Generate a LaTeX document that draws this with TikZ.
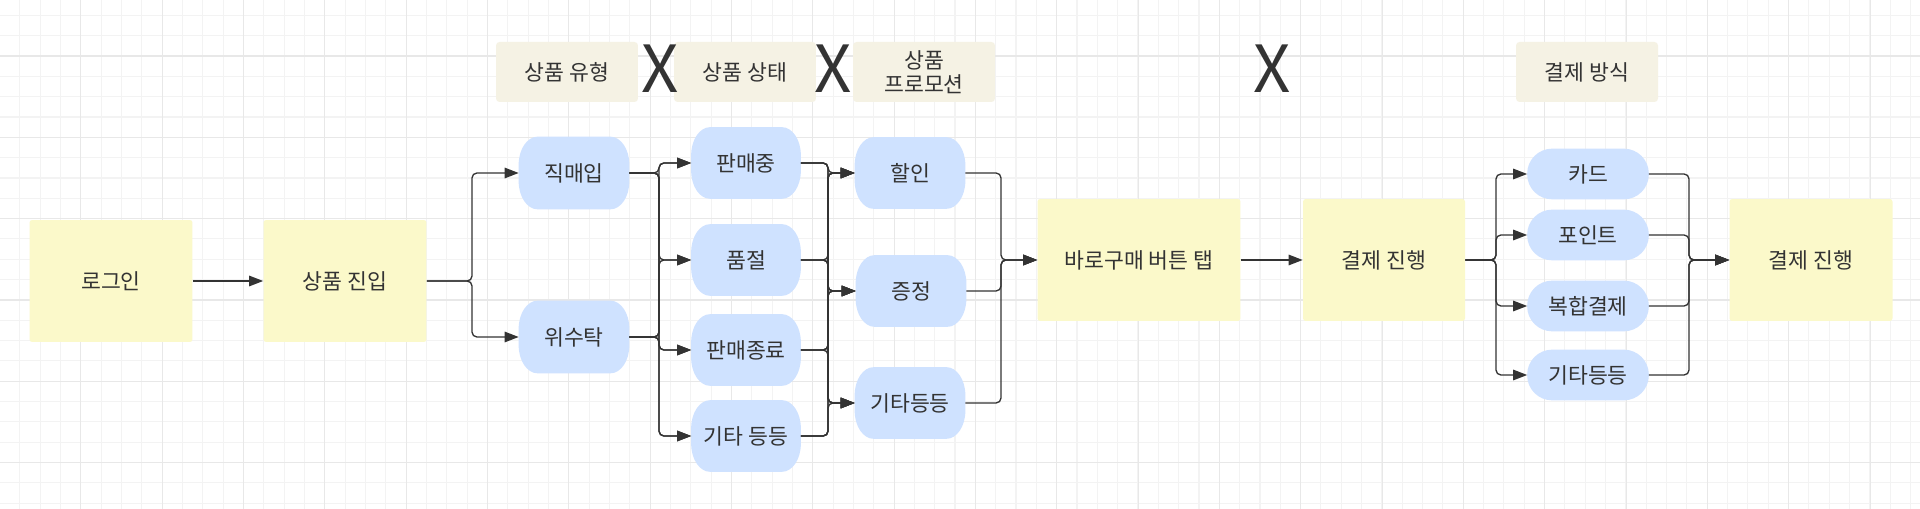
\documentclass[tikz,border=0pt]{standalone}
\usepackage{fontspec}
\setmainfont{Noto Sans CJK KR}
\usetikzlibrary{arrows.meta}

\definecolor{ink}{HTML}{333333}
\definecolor{boxyellow}{HTML}{FBF9CA}
\definecolor{tagbeige}{HTML}{F5F2E4}
\definecolor{pillblue}{HTML}{CFE2FF}
\definecolor{minorline}{HTML}{F3F3F3}
\definecolor{majorline}{HTML}{E8E8E8}

\pgfdeclarelayer{grid}
\pgfdeclarelayer{pills}
\pgfsetlayers{grid,pills,main}

\tikzset{
  stepbox/.style={fill=boxyellow, rounded corners=1.5pt, text=ink,
    minimum width=3.26cm, minimum height=2.44cm, inner sep=0pt},
  tagbox/.style={fill=tagbeige, rounded corners=2pt, text=ink,
    minimum width=2.84cm, minimum height=1.2cm, inner sep=0pt, align=center},
  pill/.style={text=ink, minimum width=2.2cm, minimum height=1.42cm, inner sep=0pt},
  paypill/.style={text=ink, minimum width=2.42cm, minimum height=1cm, inner sep=0pt},
  cross/.style={text=ink, font=\fontsize{37}{40}\selectfont, inner sep=0pt},
  link/.style={draw=ink, line width=0.75pt, rounded corners=2.8pt,
    -{Triangle[length=8pt,width=6pt]}},
}

\begin{document}
\begin{tikzpicture}[x=0.02cm, y=-0.02cm, font=\fontsize{12.3}{14.5}\selectfont]
\useasboundingbox (0,0) rectangle (1920,509);

% background grid
\begin{pgfonlayer}{grid}
\fill[white] (0,0) rectangle (1920,509);
\foreach \i in {0,...,94}
  \draw[minorline, line width=0.6pt] ({20.33*\i-0.5},0) -- ({20.33*\i-0.5},509);
\foreach \j in {-2,...,22}
  \draw[minorline, line width=0.6pt] (0,{56+20.33*\j}) -- (1920,{56+20.33*\j});
\foreach \i in {0,...,23}
  \draw[majorline, line width=0.6pt] ({81.33*\i-0.5},0) -- ({81.33*\i-0.5},509);
\foreach \j in {0,...,5}
  \draw[majorline, line width=0.6pt] (0,{56+81.33*\j}) -- (1920,{56+81.33*\j});
\end{pgfonlayer}

% headers
\node[tagbox] (hType) at (567,72) {상품 유형};
\node[tagbox] (hState) at (745,72) {상품 상태};
\node[tagbox, font=\fontsize{12.3}{14}\selectfont] (hPromo) at (924,72) {상품\\프로모션};
\node[tagbox] (hPay) at (1587,72) {결제 방식};
\node[cross] (x1) at (660,69) {X};
\node[cross] (x2) at (833,69) {X};
\node[cross] (x3) at (1272,69) {X};

% main steps
\node[stepbox] (login) at (111,281) {로그인};
\node[stepbox] (entry) at (345,281) {상품 진입};
\node[stepbox, minimum width=4.06cm] (buy) at (1139,260) {바로구매 버튼 탭};
\node[stepbox, minimum width=3.24cm] (pay) at (1384,260) {결제 진행};
\node[stepbox] (done) at (1811,260) {결제 진행};

% product type
\node[pill, minimum height=1.44cm] (jik) at (574,173) {직매입};
\node[pill, minimum height=1.44cm] (wi) at (574,337) {위수탁};

% product state
\node[pill, minimum width=2.18cm] (sell) at (746,163) {판매중};
\node[pill, minimum width=2.18cm] (sold) at (746,260) {품절};
\node[pill, minimum width=2.18cm] (ended) at (746,350) {판매종료};
\node[pill, minimum width=2.18cm] (etcA) at (746,436) {기타 등등};

% promotion
\node[pill] (disc) at (910,173) {할인};
\node[pill] (gift) at (911,291) {증정};
\node[pill] (etcB) at (910,403) {기타등등};

% payment
\node[paypill] (card) at (1588,174) {카드};
\node[paypill] (point) at (1588,235) {포인트};
\node[paypill] (mixed) at (1588,306) {복합결제};
\node[paypill] (etcC) at (1588,375) {기타등등};

% pill backgrounds (elliptic corners)
\begin{pgfonlayer}{pills}
\foreach \n/\rx/\ry in {jik/0.38cm/0.56cm, wi/0.38cm/0.56cm,
    sell/0.38cm/0.56cm, sold/0.38cm/0.56cm, ended/0.38cm/0.56cm, etcA/0.38cm/0.56cm,
    disc/0.38cm/0.56cm, gift/0.38cm/0.56cm, etcB/0.38cm/0.56cm,
    card/0.5cm/0.5cm, point/0.5cm/0.5cm, mixed/0.5cm/0.5cm, etcC/0.5cm/0.5cm}
  \fill[pillblue] ([xshift=\rx]\n.north west) -- ([xshift=-\rx]\n.north east)
    arc[start angle=90, end angle=0, x radius=\rx, y radius=\ry]
    -- ([yshift=\ry]\n.south east)
    arc[start angle=0, end angle=-90, x radius=\rx, y radius=\ry]
    -- ([xshift=\rx]\n.south west)
    arc[start angle=270, end angle=180, x radius=\rx, y radius=\ry]
    -- ([yshift=-\ry]\n.north west)
    arc[start angle=180, end angle=90, x radius=\rx, y radius=\ry] -- cycle;
\end{pgfonlayer}

% buses
\coordinate (b1) at (472,0);
\coordinate (b2) at (659,0);
\coordinate (b3) at (828,0);
\coordinate (b4) at (1001,0);
\coordinate (b5) at (1496,0);
\coordinate (b6) at (1689,0);

% connectors
\draw[link] (login) -- (entry);
\foreach \t in {jik,wi}
  \draw[link] (entry.east) -- (entry.east -| b1) |- (\t.west);
\foreach \s in {jik,wi}
  \foreach \t in {sell,sold,ended,etcA}
    \draw[link] (\s.east) -- (\s.east -| b2) |- (\t.west);
\foreach \s in {sell,sold,ended,etcA}
  \foreach \t in {disc,gift,etcB}
    \draw[link] (\s.east) -- (\s.east -| b3) |- (\t.west);
\foreach \s in {disc,gift,etcB}
  \draw[link] (\s.east) -- (\s.east -| b4) |- (buy.west);
\draw[link] (buy) -- (pay);
\foreach \t in {card,point,mixed,etcC}
  \draw[link] (pay.east) -- (pay.east -| b5) |- (\t.west);
\foreach \s in {card,point,mixed,etcC}
  \draw[link] (\s.east) -- (\s.east -| b6) |- (done.west);
\end{tikzpicture}
\end{document}
